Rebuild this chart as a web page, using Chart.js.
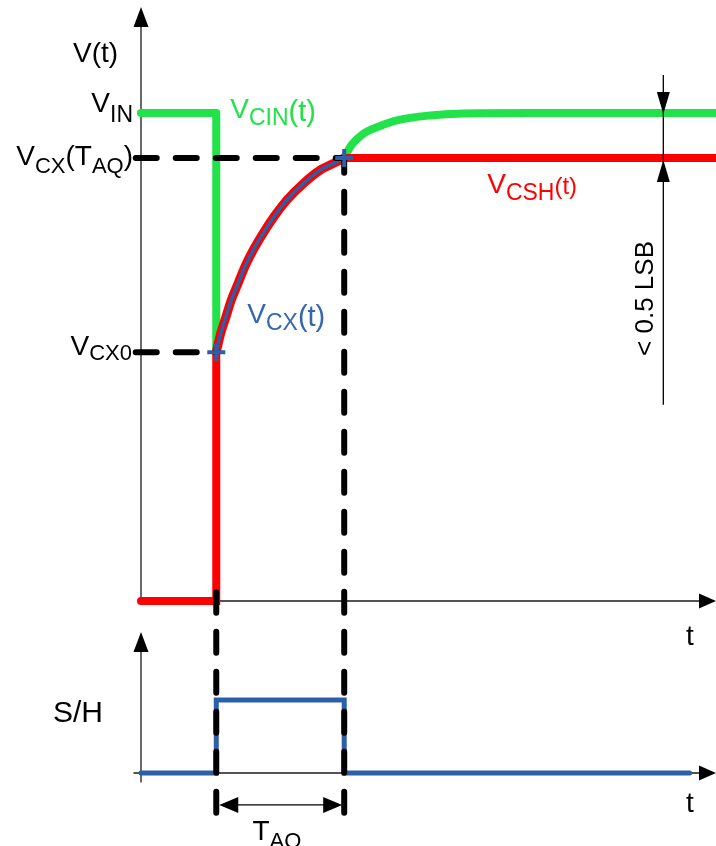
<!DOCTYPE html>
<html>
<head>
<meta charset="utf-8">
<script src="https://cdn.jsdelivr.net/npm/chart.js@4"></script>
<style>
  html, body { margin: 0; padding: 0; background: #fff; }
  canvas { display: block; }
</style>
</head>
<body>
<canvas id="c" width="716" height="846"></canvas>
<script>
// Normalised units: voltages relative to V_IN, time in sampling-clock units
const V_IN = 1.0;
const V_CX0 = 0.510;
const V_CX_TAQ = 0.908;
const T_START = 1.0;
const T_AQ_END = 2.7;
const T_MAX = 7.64;

// Charging curve V_CX(t) during the acquisition window
const chargeT = [1.00, 1.06, 1.13, 1.20, 1.29, 1.38, 1.49, 1.62, 1.77, 1.94, 2.16, 2.38, 2.60, 2.70];
const chargeV = [0.510, 0.549, 0.583, 0.617, 0.651, 0.685, 0.719, 0.753, 0.788, 0.822, 0.856, 0.883, 0.900, 0.908];

// V_CIN(t): input side, drops at switch-on, settles back to V_IN after hold
const cinStepT = [0, 1.0, 1.0];
const cinStepV = [1.0, 1.0, 0.510];
const cinSettleT = [2.70, 2.80, 2.95, 3.17, 3.40, 3.84, 4.28, 5.17, 7.64];
const cinSettleV = [0.908, 0.935, 0.957, 0.973, 0.985, 0.995, 0.999, 1.0, 1.0];

// V_CSH(t): sample capacitor, jumps to V_CX0 then holds at V_CX(T_AQ)
const cshStepT = [0, 1.0, 1.0];
const cshStepV = [0, 0, 0.510];
const cshHoldT = [2.70, 7.64];
const cshHoldV = [0.908, 0.908];

// S/H control signal
const shT = [0, 1.0, 1.0, 2.7, 2.7, 7.29];
const shV = [0, 0, 1, 1, 0, 0];

// Marked points on the charging curve
const markT = [1.0, 2.7];
const markV = [0.510, 0.908];

// Guide line extents
const GUIDE_LEFT_T = -0.07;
const GUIDE_BOTTOM_V = -0.434;
const GUIDE_START_TOP_V = 0.018;
const LSB_T = 6.94;

const GREEN = '#22e24a';
const RED = '#ff0000';
const BLUE = '#2d5ea8';
const FONT = '"Liberation Sans", Arial, sans-serif';

const pts = (xs, ys) => xs.map((x, i) => ({ x, y: ys[i] }));

function trace(label, xs, ys, opts) {
  return Object.assign({
    label,
    data: pts(xs, ys),
    showLine: true,
    pointRadius: 0,
    pointHoverRadius: 0,
    borderWidth: 8,
    fill: false,
    clip: false,
    tension: 0,
    yAxisID: 'yV',
    borderCapStyle: 'round',
    borderJoinStyle: 'round'
  }, opts);
}

const guide = (label, xs, ys) => trace(label, xs, ys, {
  borderColor: '#000', borderWidth: 6, borderDash: [21, 19], borderCapStyle: 'round', order: 1
});

function arrowHead(ctx, x, y, dir, len, half) {
  ctx.beginPath();
  ctx.moveTo(x, y);
  if (dir === 'up') { ctx.lineTo(x - half, y + len); ctx.lineTo(x + half, y + len); }
  if (dir === 'down') { ctx.lineTo(x - half, y - len); ctx.lineTo(x + half, y - len); }
  if (dir === 'right') { ctx.lineTo(x - len, y - half); ctx.lineTo(x - len, y + half); }
  if (dir === 'left') { ctx.lineTo(x + len, y - half); ctx.lineTo(x + len, y + half); }
  ctx.closePath();
  ctx.fill();
}

function seg(ctx, x1, y1, x2, y2) {
  ctx.beginPath();
  ctx.moveTo(x1, y1);
  ctx.lineTo(x2, y2);
  ctx.stroke();
}

// Text runs with subscripts: parts = [[text, size, baselineShift], ...]
function rich(ctx, parts, x, y, align, color) {
  ctx.fillStyle = color;
  ctx.textBaseline = 'alphabetic';
  ctx.textAlign = 'left';
  let total = 0;
  parts.forEach(p => { ctx.font = p[1] + 'px ' + FONT; total += ctx.measureText(p[0]).width; });
  let cx = align === 'right' ? x - total : x;
  parts.forEach(p => {
    ctx.font = p[1] + 'px ' + FONT;
    ctx.fillText(p[0], cx, y + p[2]);
    cx += ctx.measureText(p[0]).width;
  });
}

const diagram = {
  id: 'diagram',
  beforeDatasetsDraw(chart) {
    const ctx = chart.ctx;
    const X = v => chart.scales.x.getPixelForValue(v);
    const YV = v => chart.scales.yV.getPixelForValue(v);
    const YS = v => chart.scales.yS.getPixelForValue(v);
    ctx.save();
    ctx.strokeStyle = '#1a1a1a';
    ctx.fillStyle = '#000';
    ctx.lineWidth = 1.3;
    // voltage axes
    seg(ctx, X(0), YV(0), X(0), YV(1.2));
    arrowHead(ctx, X(0), YV(1.217), 'up', 20, 7.5);
    seg(ctx, X(0), YV(0), X(T_MAX) - 10, YV(0));
    arrowHead(ctx, X(T_MAX), YV(0), 'right', 17, 7.5);
    // S/H axes
    seg(ctx, X(0), YS(-0.13), X(0), YS(1.9));
    arrowHead(ctx, X(0), YS(1.93), 'up', 20, 7.5);
    seg(ctx, X(-0.1), YS(0), X(T_MAX) - 10, YS(0));
    arrowHead(ctx, X(T_MAX), YS(0), 'right', 17, 7.5);
    ctx.restore();
  },
  afterDatasetsDraw(chart) {
    const ctx = chart.ctx;
    const X = v => chart.scales.x.getPixelForValue(v);
    const YV = v => chart.scales.yV.getPixelForValue(v);
    const YS = v => chart.scales.yS.getPixelForValue(v);
    const ax = X(0);
    ctx.save();

    // acquisition-time dimension
    const dimY = YS(-0.438);
    ctx.strokeStyle = '#000';
    ctx.fillStyle = '#000';
    ctx.lineWidth = 1.3;
    seg(ctx, X(T_START) + 15, dimY, X(T_AQ_END) - 15, dimY);
    arrowHead(ctx, X(T_START) + 3, dimY, 'left', 19, 8);
    arrowHead(ctx, X(T_AQ_END) - 2, dimY, 'right', 19, 8);

    // settling error bracket
    const lx = X(LSB_T);
    seg(ctx, lx, YV(1.078), lx, YV(0.402));
    arrowHead(ctx, lx, YV(V_IN) + 1, 'down', 22, 6.5);
    arrowHead(ctx, lx, YV(V_CX_TAQ) + 2, 'up', 22, 6.5);
    ctx.save();
    ctx.translate(lx - 10, YV(0.62));
    ctx.rotate(-Math.PI / 2);
    ctx.font = '26px ' + FONT;
    ctx.textAlign = 'center';
    ctx.textBaseline = 'alphabetic';
    ctx.fillStyle = '#000';
    ctx.fillText('< 0.5 LSB', 0, 0);
    ctx.restore();

    // axis names
    rich(ctx, [['V(t)', 28, 0]], ax - 68, 62, 'left', '#000');
    rich(ctx, [['t', 28, 0]], X(T_MAX) - 30, YV(0) + 44, 'left', '#000');
    rich(ctx, [['S/H', 30, 0]], ax - 88, YS(0.70), 'left', '#000');
    rich(ctx, [['t', 28, 0]], X(T_MAX) - 30, YS(0) + 39, 'left', '#000');

    // level labels
    rich(ctx, [['V', 28, 0], ['IN', 23, 10]], ax - 8, YV(V_IN) - 1, 'right', '#000');
    rich(ctx, [['V', 28, 0], ['CX', 22, 8], ['(T', 28, 0], ['AQ', 22, 8], [')', 28, 0]],
      ax - 8, YV(V_CX_TAQ) + 7, 'right', '#000');
    rich(ctx, [['V', 28, 0], ['CX0', 22, 5]], ax - 9, YV(V_CX0) + 3, 'right', '#000');

    // trace labels
    rich(ctx, [['V', 28, 0], ['CIN', 23, 7], ['(t)', 29, 3]], X(T_START) + 14, YV(V_IN) + 5, 'left', GREEN);
    rich(ctx, [['V', 28, 0], ['CX', 23, 7], ['(t)', 29, 3]], X(T_START) + 31, YV(0.570), 'left', '#3566b0');
    rich(ctx, [['V', 28, 0], ['CSH', 23, 7], ['(t)', 24, 1]], X(4.6), YV(V_CX_TAQ) + 35, 'left', RED);

    // acquisition time label
    rich(ctx, [['T', 28, 0], ['AQ', 22, 8]], X(1.48), YS(-0.92), 'left', '#000');

    ctx.restore();
  }
};

new Chart(document.getElementById('c'), {
  type: 'scatter',
  data: {
    datasets: [
      trace('V_CIN step', cinStepT, cinStepV, { borderColor: GREEN, order: 6 }),
      trace('V_CIN settle', cinSettleT, cinSettleV, { borderColor: GREEN, cubicInterpolationMode: 'monotone', order: 6 }),
      trace('V_CSH step', cshStepT, cshStepV, { borderColor: RED, borderJoinStyle: 'miter', order: 5 }),
      trace('V_CSH charge', chargeT, chargeV, { borderColor: RED, borderWidth: 9, cubicInterpolationMode: 'monotone', order: 5 }),
      trace('V_CSH hold', cshHoldT, cshHoldV, { borderColor: RED, order: 5 }),
      trace('V_CX(t)', chargeT, chargeV, { borderColor: BLUE, borderWidth: 3.5, cubicInterpolationMode: 'monotone', order: 3 }),
      trace('S/H', shT, shV, { borderColor: BLUE, borderWidth: 5, yAxisID: 'yS', borderJoinStyle: 'miter', order: 4 }),
      guide('V_CX(T_AQ) level', [GUIDE_LEFT_T, T_AQ_END], [V_CX_TAQ, V_CX_TAQ]),
      guide('V_CX0 level', [GUIDE_LEFT_T, T_START], [V_CX0, V_CX0]),
      guide('sample start', [T_START, T_START], [GUIDE_BOTTOM_V, GUIDE_START_TOP_V]),
      guide('acquisition end', [T_AQ_END, T_AQ_END], [GUIDE_BOTTOM_V, V_CX_TAQ]),
      {
        label: 'markers',
        data: pts(markT, markV),
        yAxisID: 'yV',
        showLine: false,
        pointStyle: 'cross',
        pointRadius: 9,
        pointHoverRadius: 9,
        pointBorderWidth: 4,
        borderColor: BLUE,
        backgroundColor: BLUE,
        clip: false,
        order: 0
      }
    ]
  },
  options: {
    responsive: false,
    animation: false,
    events: [],
    layout: { autoPadding: false, padding: { left: 141, right: 0, top: 0, bottom: 0 } },
    plugins: { legend: { display: false }, tooltip: { enabled: false } },
    scales: {
      x: { type: 'linear', min: 0, max: T_MAX, display: false },
      yV: { type: 'linear', min: -0.502, max: 1.2316, display: false },
      yS: { type: 'linear', min: -1.0, max: 10.589, display: false }
    }
  },
  plugins: [diagram]
});
</script>
</body>
</html>
